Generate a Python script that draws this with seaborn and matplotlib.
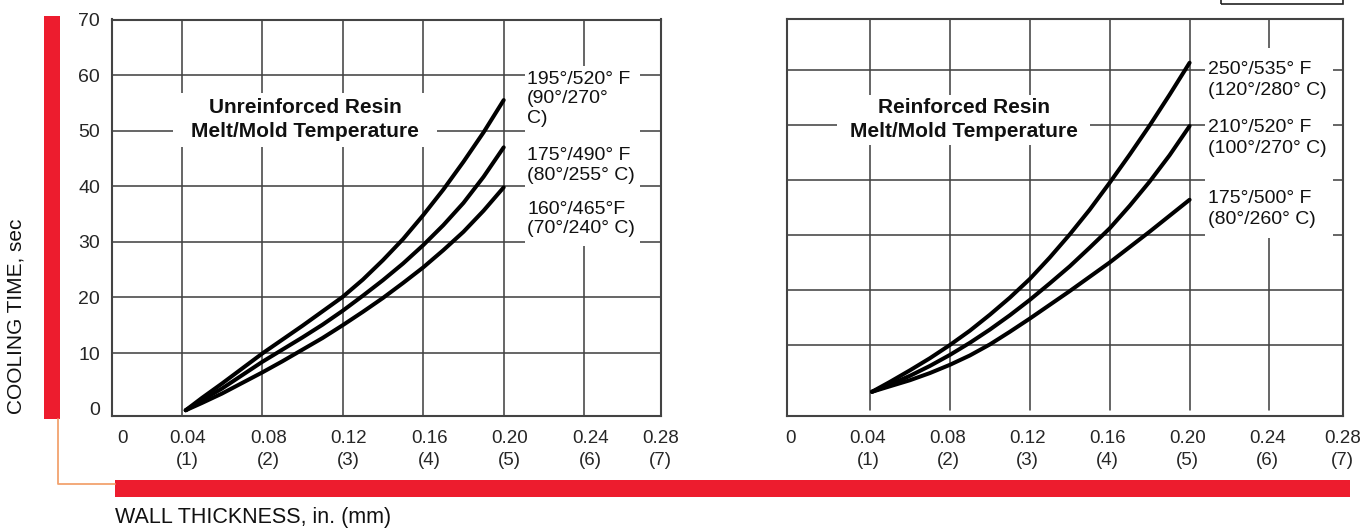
import matplotlib
matplotlib.use("Agg")
import matplotlib.pyplot as plt
from matplotlib.patches import Rectangle
from matplotlib.lines import Line2D
import pandas as pd
import seaborn as sns

# ---------------- data ----------------
# Wall thickness (in.) at which the cooling-time curves are sampled
thick_unreinf = [0.042, 0.05, 0.06, 0.07, 0.08, 0.09, 0.10, 0.11, 0.12,
                 0.13, 0.14, 0.15, 0.16, 0.17, 0.18, 0.19, 0.20]
thick_reinf = [0.041, 0.05, 0.06, 0.07, 0.08, 0.09, 0.10, 0.11, 0.12,
               0.13, 0.14, 0.15, 0.16, 0.17, 0.18, 0.19, 0.20]

# Cooling time (sec), unreinforced resin
unreinf_195 = [-0.3, 1.9, 4.5, 7.2, 9.9, 12.4, 14.9, 17.5, 20.1,
               23.2, 26.7, 30.5, 34.8, 39.4, 44.4, 49.7, 55.5]
unreinf_175 = [-0.3, 1.5, 3.6, 6.0, 8.4, 10.6, 12.8, 15.1, 17.6,
               20.3, 23.1, 26.1, 29.4, 33.0, 37.0, 41.7, 47.0]
unreinf_160 = [-0.3, 1.0, 2.7, 4.6, 6.5, 8.5, 10.6, 12.7, 15.0,
               17.4, 19.9, 22.6, 25.4, 28.5, 31.8, 35.6, 39.8]

# Cooling time (sec), reinforced resin
reinf_250 = [1.5, 3.3, 5.4, 7.6, 10.0, 12.6, 15.5, 18.6, 22.0,
             25.9, 30.1, 34.6, 39.5, 44.6, 49.9, 55.5, 61.3]
reinf_210 = [1.5, 2.8, 4.4, 6.2, 8.2, 10.4, 12.8, 15.4, 18.2,
             21.2, 24.3, 27.7, 31.2, 35.3, 39.7, 44.5, 49.8]
reinf_175 = [1.5, 2.5, 3.6, 4.9, 6.4, 8.1, 10.1, 12.4, 14.8,
             17.3, 19.8, 22.4, 25.0, 27.8, 30.6, 33.5, 36.4]

unreinf_labels = ["195°/520° F\n(90°/270°\nC)", "175°/490° F\n(80°/255° C)", "160°/465°F\n(70°/240° C)"]
reinf_labels = ["250°/535° F\n(120°/280° C)", "210°/520° F\n(100°/270° C)", "175°/500° F\n(80°/260° C)"]

x_tick_values = [0, 0.04, 0.08, 0.12, 0.16, 0.20, 0.24, 0.28]
x_tick_text = ["0", "0.04\n(1)", "0.08\n(2)", "0.12\n(3)", "0.16\n(4)", "0.20\n(5)", "0.24\n(6)", "0.28\n(7)"]
y_tick_values = [0, 10, 20, 30, 40, 50, 60, 70]
grid_x = [0.04, 0.08, 0.12, 0.16, 0.20, 0.24]
grid_y = [10, 20, 30, 40, 50, 60]


def long_form(x, series, names):
    rows = []
    for name, ys in zip(names, series):
        for xv, yv in zip(x, ys):
            rows.append({"thickness": xv, "time": yv, "series": name})
    return pd.DataFrame(rows)


df_u = long_form(thick_unreinf, [unreinf_195, unreinf_175, unreinf_160], unreinf_labels)
df_r = long_form(thick_reinf, [reinf_250, reinf_210, reinf_175], reinf_labels)

# ---------------- style ----------------
sns.set_style("white")
plt.rcParams["font.family"] = ["Liberation Sans", "DejaVu Sans"]
plt.rcParams["text.color"] = "#111111"

W, H = 1369, 529
fig = plt.figure(figsize=(W / 100, H / 100), dpi=100)


def fx(px):
    return px / W


def fy(py):
    return 1 - py / H


GRID = "#434343"
RED = "#ED1C2E"
ORANGE = "#F2A36E"

axL = fig.add_axes([fx(112), fy(415.7), fx(661 - 112), (415.7 - 19.5) / H])
axR = fig.add_axes([fx(787.3), fy(415.7), fx(1343 - 787.3), (415.7 - 19.3) / H])

axL.set_xlim(0.00537, 0.27816)
axL.set_ylim(-1.28, 70)
axR.set_xlim(-0.0014, 0.2768)
axR.set_ylim(-2.85, 69.2)

for ax, vmin in ((axL, 0.0), (axR, 0.0144)):
    for v in grid_x:
        ax.axvline(v, ymin=vmin, color=GRID, lw=1.15, zorder=1)
    for v in grid_y:
        ax.axhline(v, color=GRID, lw=1.15, zorder=1)
    for s in ax.spines.values():
        s.set_color(GRID)
        s.set_linewidth(1.5)
    ax.grid(False)

# ---------------- curves ----------------
sns.lineplot(data=df_u, x="thickness", y="time", hue="series", palette=["black"] * 3,
             estimator=None, sort=False, legend=False, lw=2.9, ax=axL, zorder=5)
sns.lineplot(data=df_r, x="thickness", y="time", hue="series", palette=["black"] * 3,
             estimator=None, sort=False, legend=False, lw=2.9, ax=axR, zorder=5)
for ax in (axL, axR):
    for ln in ax.get_lines():
        if ln.get_zorder() == 5:
            ln.set_solid_joinstyle("round")

# white panels behind the captions
axL.add_patch(Rectangle((0.2106, 29.3), 0.2677 - 0.2106, 61.6 - 29.3, facecolor="white",
                        edgecolor="none", zorder=2))
axL.add_patch(Rectangle((0.0357, 47.1), 0.1668 - 0.0357, 56.8 - 47.1, facecolor="white",
                        edgecolor="none", zorder=2))
axR.add_patch(Rectangle((0.2077, 29.45), 0.2718 - 0.2077, 64.0 - 29.45, facecolor="white",
                        edgecolor="none", zorder=2))
axR.add_patch(Rectangle((0.0235, 46.4), 0.150 - 0.0235, 55.5 - 46.4, facecolor="white",
                        edgecolor="none", zorder=2))

# ---------------- captions ----------------
axL.text(0.1013, 52.0, "Unreinforced Resin\nMelt/Mold Temperature", ha="center", va="center",
         fontsize=15, fontweight="bold", linespacing=1.35, zorder=6)
axR.text(0.087, 51.0, "Reinforced Resin\nMelt/Mold Temperature", ha="center", va="center",
         fontsize=15, fontweight="bold", linespacing=1.35, zorder=6)

for lab, ytop in zip(unreinf_labels, [60.8, 47.0, 37.4]):
    axL.text(0.2116, ytop, lab, ha="left", va="top", fontsize=14, linespacing=1.2, zorder=6)
for lab, ytop in zip(reinf_labels, [61.6, 51.0, 38.2]):
    axR.text(0.2092, ytop, lab, ha="left", va="top", fontsize=14, linespacing=1.3, zorder=6)

# ---------------- ticks ----------------
left_label_pos = [0.0107] + [v + 0.003 for v in x_tick_values[1:]]
left_label_pos[-1] = 0.2779
right_label_pos = [0.0003] + [v - 0.001 for v in x_tick_values[1:]]
right_label_pos[-1] = 0.2765

axL.set_xticks(left_label_pos)
axL.set_xticklabels(x_tick_text)
axR.set_xticks(right_label_pos)
axR.set_xticklabels(x_tick_text)
axL.set_yticks(y_tick_values)
axL.set_yticklabels([str(v) for v in y_tick_values])
axR.set_yticks([])
for ax in (axL, axR):
    ax.tick_params(axis="x", length=0, pad=10, labelsize=13.5)
    ax.set_xlabel("")
    ax.set_ylabel("")
axL.tick_params(axis="y", length=0, pad=8.6, labelsize=14)
for t in axL.get_xticklabels() + axR.get_xticklabels():
    t.set_linespacing(1.4)

# ---------------- frame decorations ----------------
fig.add_artist(Rectangle((fx(43.5), fy(419)), fx(16.5), (419 - 16) / H, transform=fig.transFigure,
                         facecolor=RED, edgecolor="none"))
fig.add_artist(Rectangle((fx(115), fy(497)), fx(1350 - 115), 17 / H, transform=fig.transFigure,
                         facecolor=RED, edgecolor="none"))
fig.add_artist(Line2D([fx(57.5), fx(57.5), fx(115)], [fy(419), fy(483.5), fy(483.5)],
                      transform=fig.transFigure, color=ORANGE, lw=1.3))
fig.add_artist(Rectangle((fx(1221), fy(3.5)), fx(1343 - 1221), 12 / H, transform=fig.transFigure,
                         facecolor="none", edgecolor="#222222", lw=1.2))

fig.text(fx(16.5), fy(316), "COOLING TIME, sec", rotation=90, ha="center", va="center", fontsize=15)
fig.text(fx(115), fy(523), "WALL THICKNESS, in. (mm)", ha="left", va="baseline", fontsize=15.5)

fig.savefig("out.png", dpi=100)
